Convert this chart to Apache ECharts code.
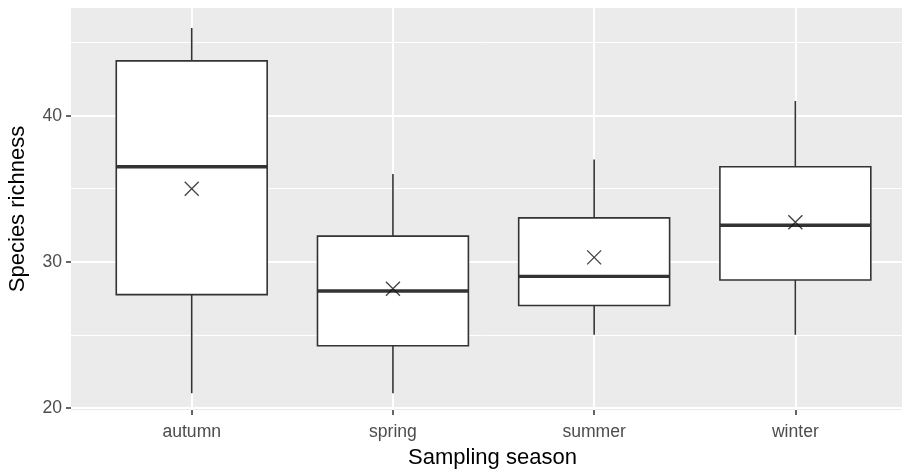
<!DOCTYPE html>
<html>
<head>
<meta charset="utf-8">
<script src="https://cdn.jsdelivr.net/npm/echarts@6/dist/echarts.min.js"></script>
<style>
  html, body { margin: 0; padding: 0; background: #fff; }
  #chart { width: 902px; height: 470px; }
</style>
</head>
<body>
<div id="chart"></div>
<script>
// ---- data ----
const categories = ['autumn', 'spring', 'summer', 'winter'];
const whiskerLow  = [21, 21, 25, 25];
const q1Values    = [27.75, 24.25, 27, 28.75];
const medians     = [36.5, 28, 29, 32.5];
const q3Values    = [43.75, 31.75, 33, 36.5];
const whiskerHigh = [46, 36, 37, 41];
const means       = [35.0, 28.15, 30.3, 32.7];
const yTicks      = [20, 30, 40];
const yMinorLines = [25, 35, 45];

const FONT = 'Liberation Sans, Arial, Helvetica, sans-serif';
const positions = categories.map((c, i) => i + 1);
const boxData = categories.map((c, i) => [positions[i], whiskerLow[i], q1Values[i], medians[i], q3Values[i], whiskerHigh[i]]);
const meanData = categories.map((c, i) => [positions[i], means[i]]);

const gridLines = []
  .concat(yTicks.map(v => ({ yAxis: v, lineStyle: { width: 1.9 } })))
  .concat(yMinorLines.map(v => ({ yAxis: v, lineStyle: { width: 1.0 } })))
  .concat(positions.map(v => ({ xAxis: v, lineStyle: { width: 1.9 } })));

const chart = echarts.init(document.getElementById('chart'), null, { renderer: 'canvas' });

const option = {
  animation: false,
  backgroundColor: '#ffffff',
  grid: {
    left: 71, right: 0, top: 8, bottom: 60,
    containLabel: false,
    outerBoundsMode: 'none',
    show: true, backgroundColor: '#EBEBEB', borderWidth: 0
  },
  xAxis: {
    type: 'value',
    min: 0.4,
    max: 4.53,
    name: 'Sampling season',
    nameLocation: 'middle',
    nameGap: 37,
    nameTextStyle: { fontFamily: FONT, fontSize: 22, color: '#000', padding: [0, 0, 0, 12] },
    axisLine: { show: false },
    axisTick: { show: true, customValues: positions, length: 5, lineStyle: { color: '#333333', width: 1.5 } },
    axisLabel: {
      customValues: positions,
      formatter: v => categories[Math.round(v) - 1] || '',
      fontFamily: FONT, fontSize: 17.6, color: '#4D4D4D', margin: 13
    },
    splitLine: { show: false }
  },
  yAxis: {
    type: 'value',
    min: 19.85,
    max: 47.37,
    name: 'Species richness',
    nameLocation: 'middle',
    nameGap: 42,
    nameTextStyle: { fontFamily: FONT, fontSize: 22, color: '#000' },
    axisLine: { show: false },
    axisTick: { show: true, customValues: yTicks, length: 5, lineStyle: { color: '#333333', width: 1.5 } },
    axisLabel: {
      customValues: yTicks,
      fontFamily: FONT, fontSize: 17.6, color: '#4D4D4D', margin: 9
    },
    splitLine: { show: false }
  },
  series: [
    {
      type: 'line',
      data: [],
      silent: true,
      z: 1,
      markLine: {
        z: 1,
        silent: true,
        symbol: 'none',
        label: { show: false },
        emphasis: { disabled: true },
        lineStyle: { color: '#ffffff', type: 'solid' },
        data: gridLines
      }
    },
    {
      type: 'custom',
      z: 3,
      silent: true,
      data: boxData,
      encode: { x: 0, y: [1, 2, 3, 4, 5] },
      renderItem: function (params, api) {
        const x = api.value(0);
        const lo = api.value(1), q1 = api.value(2), med = api.value(3), q3 = api.value(4), hi = api.value(5);
        const half = 0.375;
        const tl = api.coord([x - half, q3]);
        const br = api.coord([x + half, q1]);
        const pLo = api.coord([x, lo]);
        const pHi = api.coord([x, hi]);
        const mL = api.coord([x - half, med]);
        const mR = api.coord([x + half, med]);
        const stroke = '#333333';
        return {
          type: 'group',
          children: [
            { type: 'line', shape: { x1: pHi[0], y1: pHi[1], x2: pHi[0], y2: tl[1] }, style: { stroke, lineWidth: 1.6 } },
            { type: 'line', shape: { x1: pLo[0], y1: br[1], x2: pLo[0], y2: pLo[1] }, style: { stroke, lineWidth: 1.6 } },
            { type: 'rect', shape: { x: tl[0], y: tl[1], width: br[0] - tl[0], height: br[1] - tl[1] }, style: { fill: '#ffffff', stroke, lineWidth: 1.6 } },
            { type: 'line', shape: { x1: mL[0], y1: mL[1], x2: mR[0], y2: mR[1] }, style: { stroke, lineWidth: 3.4 } }
          ]
        };
      }
    },
    {
      type: 'scatter',
      z: 4,
      silent: true,
      data: meanData,
      symbol: 'path://M0,0L10,10M10,0L0,10',
      symbolSize: 14,
      itemStyle: { color: 'rgba(0,0,0,0)', borderColor: '#111111', borderWidth: 1.3 }
    }
  ]
};

chart.setOption(option);
</script>
</body>
</html>
